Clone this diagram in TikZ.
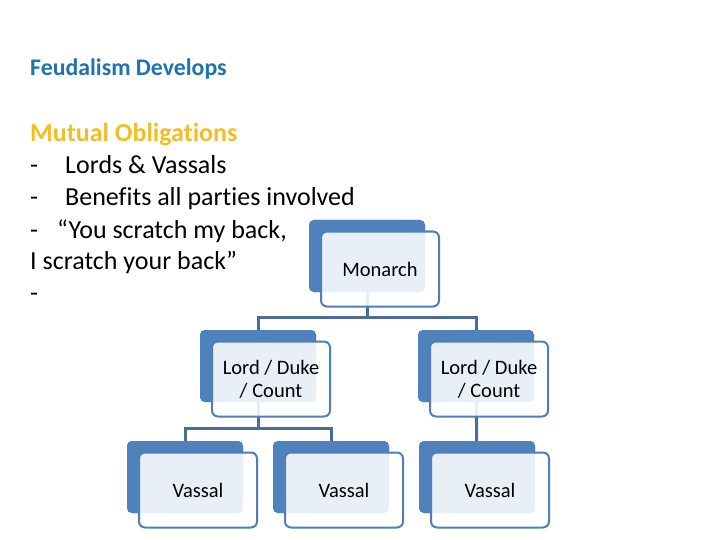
\documentclass[tikz,border=0pt]{standalone}
\usepackage{fontspec}
\setmainfont{Carlito}[Ligatures={NoCommon}]
\definecolor{titleblue}{RGB}{31,115,178}
\definecolor{gold}{RGB}{242,190,40}
\definecolor{backblue}{RGB}{79,129,189}
\definecolor{edgeblue}{RGB}{79,126,184}
\definecolor{connblue}{RGB}{74,108,152}
\tikzset{
  backbox/.style={draw=none,fill=backblue,rounded corners=5pt,minimum width=116pt,minimum height=72pt,inner sep=0pt},
  frontbox/.style={draw=edgeblue,line width=2pt,fill=white,fill opacity=0.88,text opacity=1,rounded corners=6pt,minimum width=118pt,minimum height=75pt,inner sep=0pt,align=center,font=\fontsize{20.5}{23}\selectfont},
  conn/.style={draw=connblue,line width=3pt},
  bodytext/.style={anchor=base west,inner sep=0pt,font=\fontsize{26}{31}\selectfont},
}
\begin{document}
\begin{tikzpicture}[x=1pt,y=-1pt]
\useasboundingbox (0,0) rectangle (720,540);
% left texts
\node[anchor=base west,inner sep=0pt,text=titleblue,font=\fontsize{23.8}{28}\selectfont\bfseries] (title) at (30,76) {Feudalism Develops};
\node[bodytext,text=gold,font=\fontsize{26}{31}\selectfont\bfseries] (mo) at (30,142) {Mutual Obligations};
\node[bodytext] (d1) at (30,174) {-};
\node[bodytext] (t1) at (65,174) {Lords \& Vassals};
\node[bodytext] (d2) at (30,206) {-};
\node[bodytext] (t2) at (65,206) {Benefits all parties involved};
\node[bodytext] (d3) at (30,238) {-};
\node[bodytext] (t3) at (57,238) {“You scratch my back,};
\node[bodytext] (t4) at (30,269) {I scratch your back”};
\node[bodytext] (d5) at (30,301) {-};
% junctions
\coordinate (j1) at (367,317);
\coordinate (j2) at (258,428);
% back boxes (placed first so connectors can refer to them)
\node[backbox] (mB) at (367,256) {};
\node[backbox] (l1B) at (258,366) {};
\node[backbox] (l2B) at (476,366) {};
\node[backbox] (v1B) at (185,477) {};
\node[backbox] (v2B) at (331,477) {};
\node[backbox] (v3B) at (477,477) {};
% connectors
\draw[conn] (mB.center) -- (j1);
\draw[conn] (j1) -| (l1B.center);
\draw[conn] (j1) -| (l2B.center);
\draw[conn] (l1B.center) -- (j2);
\draw[conn] (j2) -| (v1B.center);
\draw[conn] (j2) -| (v2B.center);
\draw[conn] (l2B.center) -- (v3B.center);
% redraw back boxes over connectors
\node[backbox] (mB2) at (mB) {};
\node[backbox] (l1B2) at (l1B) {};
\node[backbox] (l2B2) at (l2B) {};
\node[backbox] (v1B2) at (v1B) {};
\node[backbox] (v2B2) at (v2B) {};
\node[backbox] (v3B2) at (v3B) {};
% front boxes
\node[frontbox] (m) at (380,269) {Monarch};
\node[frontbox] (l1) at (271,379) {Lord / Duke\\/ Count};
\node[frontbox] (l2) at (489,379) {Lord / Duke\\/ Count};
\node[frontbox] (v1) at (198,490) {Vassal};
\node[frontbox] (v2) at (344,490) {Vassal};
\node[frontbox] (v3) at (490,490) {Vassal};
\end{tikzpicture}
\end{document}
